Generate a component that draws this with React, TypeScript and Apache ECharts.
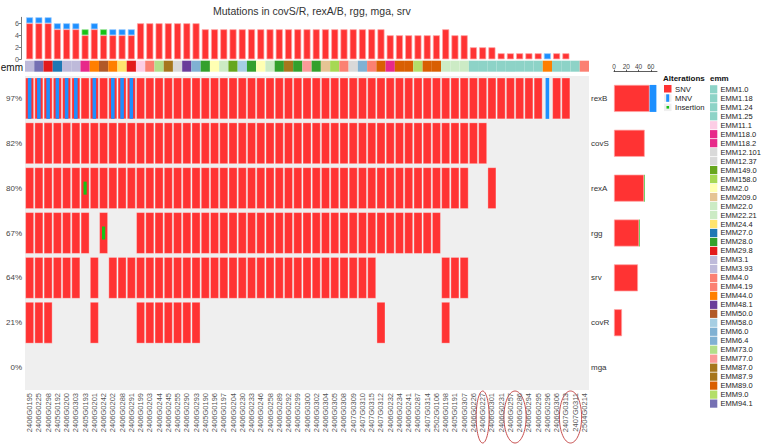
import React, { useEffect, useRef } from "react";
import * as echarts from "echarts";

const FONT = "'Liberation Sans', Arial, sans-serif";

const samples = [
  "2406G0195", "2406G0225", "2406G0298", "2405G0192", "2406G0200", "2406G0303", "2405G0193", "2406G0201", "2406G0242", "2406G0202",
  "2406G0288", "2406G0291", "2406G0199", "2406G0203", "2406G0244", "2406G0245", "2406G0255", "2406G0290", "2406G0293", "2405G0190",
  "2406G0196", "2406G0197", "2406G0204", "2406G0230", "2406G0233", "2406G0246", "2406G0258", "2406G0289", "2406G0292", "2406G0299",
  "2406G0300", "2406G0302", "2406G0304", "2406G0305", "2406G0308", "2407G0309", "2407G0310", "2407G0315", "2407G0312", "2406G0232",
  "2406G0234", "2406G0241", "2406G0287", "2407G0314", "2502G0106", "2406G0198", "2405G0191", "2406G0307", "2406G0226", "2406G0227",
  "2406G0301", "2406G0231", "2406G0257", "2406G0286", "2406G0294", "2406G0295", "2406G0296", "2406G0306", "2407G0313", "2407G0311",
  "2504G0214",
];

const genes = ["rexB", "covS", "rexA", "rgg", "srv", "covR", "mga"];

// One code per sample (groups of ten): S = SNV, M = MNV, B = SNV + MNV, I = SNV + insertion, . = none
const rexB = "BBBBBBSBSB BBSSSSSSSS SSSSSSSSSS SSSSSSSSSS SSSSSSSSSS SSSSSSMSS. .";
const covS = "SSSSSSSSSS SSSSSSSSSS SSSSSSSSSS SSSSSSSSSS SSSSSSSSSS .......... .";
const rexA = "SSSSSSISSS SSSSSSSSSS SSSSSSSSSS SSSSSSSSSS SSSSSSSS.. S......... .";
const rgg = "SSSSSSS.I. ..SSSSSSSS SSSSSSSSSS SSSSSSSSSS SSSSS..... .......... .";
const srv = "SSSSSS.S.S SSSSSSSSSS SSSSSSSSSS SSSSSSSS.. .....SSS.. .......... .";
const covR = "SSS....S.. ..SSSSSSS. .......... ........S. .....S.... .......... .";
const mga = ".......... .......... .......... .......... .......... .......... .";

const geneCodes = [rexB, covS, rexA, rgg, srv, covR, mga].map((s) => s.replace(/ /g, "").split(""));

const emmBySample = [
  "EMM3.93", "EMM94.1", "EMM29.8", "EMM27.0", "EMM3.1", "EMM3.1", "EMM118.0", "EMM44.0", "EMM50.0", "EMM44.0",
  "EMM24.4", "EMM29.8", "EMM11.1", "EMM4.0", "EMM73.0", "EMM87.0", "EMM12.37", "EMM48.1", "EMM6.0", "EMM28.0",
  "EMM2.0", "EMM22.0", "EMM149.0", "EMM58.0", "EMM28.0", "EMM2.0", "EMM22.0", "EMM28.0", "EMM87.9", "EMM28.0",
  "EMM77.0", "EMM28.0", "EMM209.0", "EMM158.0", "EMM4.19", "EMM12.101", "EMM6.4", "EMM4.0", "EMM89.0", "EMM118.2",
  "EMM89.0", "EMM89.0", "EMM9.0", "EMM89.0", "EMM89.0", "EMM22.21", "EMM22.0", "EMM22.0", "EMM1.0", "EMM1.0",
  "EMM1.18", "EMM1.0", "EMM1.24", "EMM1.0", "EMM1.25", "EMM1.0", "EMM44.0", "EMM1.0", "EMM1.0", "EMM1.0",
  "EMM4.0",
];

const emmLevels = [
  "EMM1.0", "EMM1.18", "EMM1.24", "EMM1.25", "EMM11.1", "EMM118.0", "EMM118.2", "EMM12.101", "EMM12.37",
  "EMM149.0", "EMM158.0", "EMM2.0", "EMM209.0", "EMM22.0", "EMM22.21", "EMM24.4", "EMM27.0", "EMM28.0",
  "EMM29.8", "EMM3.1", "EMM3.93", "EMM4.0", "EMM4.19", "EMM44.0", "EMM48.1", "EMM50.0", "EMM58.0",
  "EMM6.0", "EMM6.4", "EMM73.0", "EMM77.0", "EMM87.0", "EMM87.9", "EMM89.0", "EMM9.0", "EMM94.1",
];
const emmColors = [
  "#8dd3c7", "#8dd3c7", "#8dd3c7", "#8dd3c7", "#fccde5", "#e7298a", "#e7298a", "#d9d9d9", "#d9d9d9",
  "#66a61e", "#a6d854", "#ffffb3", "#e5c494", "#ccebc5", "#ccebc5", "#ffe46e", "#1f78b4", "#33a02c",
  "#e31a1c", "#bebada", "#bebada", "#fb8072", "#fb8072", "#ff7f00", "#6a3d9a", "#b15928", "#a6cee3",
  "#80b1d3", "#80b1d3", "#b2df8a", "#fb9a99", "#a6761d", "#a6761d", "#d95f02", "#b3de69", "#7570b3",
];

const circledSamples = [["2406G0227"], ["2406G0257", "2406G0286"], ["2407G0313", "2407G0311"]];

const SNV_COLOR = "#ff3333";
const MNV_COLOR = "#1e90ff";
const INS_COLOR = "#16c216";

const hasSnv = (c: string) => c === "S" || c === "B" || c === "I";
const hasMnv = (c: string) => c === "M" || c === "B";
const hasIns = (c: string) => c === "I";

// empty stack segments are left out so they leave no hairline
const orNull = (v: number) => (v > 0 ? v : null);

export default function App() {
  const ref = useRef<HTMLDivElement>(null);

  useEffect(() => {
    document.body.style.margin = "0";
    if (!ref.current) return;
    const chart = echarts.init(ref.current, undefined, { renderer: "svg" });

    const n = samples.length;
    const colSnv = samples.map((_, i) => geneCodes.filter((g) => hasSnv(g[i])).length);
    const colMnv = samples.map((_, i) => geneCodes.filter((g) => hasMnv(g[i])).length);
    const colIns = samples.map((_, i) => geneCodes.filter((g) => hasIns(g[i])).length);

    const geneSnv = geneCodes.map((g) => g.filter(hasSnv).length);
    const geneMnv = geneCodes.map((g) => g.filter(hasMnv).length);
    const geneIns = geneCodes.map((g) => g.filter(hasIns).length);
    const genePct = geneCodes.map((g) => Math.round((g.filter((c) => c !== ".").length / n) * 100) + "%");

    const cells: number[][] = [];
    geneCodes.forEach((g, r) => {
      g.forEach((c, i) => {
        if (c !== ".") cells.push([i, r, hasSnv(c) ? 1 : 0, hasMnv(c) ? 1 : 0, hasIns(c) ? 1 : 0]);
      });
    });

    const emmColorOf = (e: string) => emmColors[emmLevels.indexOf(e)];

    const L = 25;
    const W = 564;

    const option: any = {
      animation: false,
      textStyle: { fontFamily: FONT },
      title: {
        text: "Mutations in covS/R, rexA/B, rgg, mga, srv",
        left: 208,
        top: 0,
        textStyle: { fontSize: 10.5, fontWeight: "normal", color: "#333", fontFamily: FONT },
      },
      grid: [
        { left: L, top: 17.3, width: W, height: 42 },
        { left: L, top: 60.7, width: W, height: 11 },
        { left: L, top: 76, width: W, height: 314, show: true, backgroundColor: "#efefef", borderWidth: 0 },
        { left: 614, top: 76, width: 43, height: 314 },
      ],
      xAxis: [
        { type: "category", gridIndex: 0, data: samples, show: false },
        { type: "category", gridIndex: 1, data: samples, show: false },
        {
          type: "category",
          gridIndex: 2,
          data: samples,
          axisLine: { show: false },
          axisTick: { show: false },
          axisLabel: { rotate: 90, interval: 0, fontSize: 7.5, color: "#555", margin: 3, fontFamily: FONT },
        },
        {
          type: "value",
          gridIndex: 3,
          position: "top",
          min: 0,
          max: 70,
          interval: 20,
          offset: 4.3,
          axisLine: { show: true, lineStyle: { color: "#333", width: 0.8 } },
          axisTick: { show: true, length: 2, lineStyle: { color: "#333", width: 0.8 } },
          axisLabel: { fontSize: 6.5, color: "#444", margin: 1.5, fontFamily: FONT },
          splitLine: { show: false },
        },
      ],
      yAxis: [
        {
          type: "value",
          gridIndex: 0,
          min: 0,
          max: 7,
          interval: 2,
          offset: 4,
          axisLine: { show: true, lineStyle: { color: "#555", width: 0.8 } },
          axisTick: { show: true, length: 2.5, lineStyle: { color: "#555", width: 0.8 } },
          axisLabel: { fontSize: 7, color: "#555", margin: 2, fontFamily: FONT },
          splitLine: { show: false },
        },
        { type: "value", gridIndex: 1, min: 0, max: 1, show: false },
        {
          type: "category",
          gridIndex: 2,
          data: genePct,
          inverse: true,
          position: "left",
          axisLine: { show: false },
          axisTick: { show: false },
          axisLabel: { fontSize: 8, color: "#444", margin: 3, fontFamily: FONT },
        },
        {
          type: "category",
          gridIndex: 2,
          data: genes,
          inverse: true,
          position: "right",
          axisLine: { show: false },
          axisTick: { show: false },
          axisLabel: { fontSize: 8, color: "#333", margin: 2, fontFamily: FONT },
        },
        { type: "category", gridIndex: 3, data: genes, inverse: true, show: false },
      ],
      series: [
        {
          name: "SNV",
          type: "bar",
          xAxisIndex: 0,
          yAxisIndex: 0,
          stack: "top",
          barWidth: 7,
          data: colSnv.map(orNull),
          itemStyle: { color: SNV_COLOR, borderColor: "#ffa3a3", borderWidth: 0.7 },
        },
        {
          name: "MNV",
          type: "bar",
          xAxisIndex: 0,
          yAxisIndex: 0,
          stack: "top",
          barWidth: 7,
          data: colMnv.map(orNull),
          itemStyle: { color: MNV_COLOR, borderColor: "#9ccbff", borderWidth: 0.7 },
        },
        {
          name: "Insertion",
          type: "bar",
          xAxisIndex: 0,
          yAxisIndex: 0,
          stack: "top",
          barWidth: 7,
          data: colIns.map(orNull),
          itemStyle: { color: INS_COLOR, borderColor: "#9be29b", borderWidth: 0.7 },
        },
        {
          name: "emm",
          type: "bar",
          xAxisIndex: 1,
          yAxisIndex: 1,
          barWidth: "100%",
          data: emmBySample.map((e) => ({ value: 1, itemStyle: { color: emmColorOf(e) } })),
        },
        {
          name: "cells",
          type: "custom",
          xAxisIndex: 2,
          yAxisIndex: 2,
          data: cells,
          renderItem: (_params: any, api: any) => {
            const c = api.coord([api.value(0), api.value(1)]);
            const s = api.size([1, 1]);
            const cw = s[0] - 1.2;
            const ch = s[1] - 4;
            const children: any[] = [];
            if (api.value(2)) {
              children.push({
                type: "rect",
                shape: { x: c[0] - cw / 2, y: c[1] - ch / 2, width: cw, height: ch },
                style: { fill: SNV_COLOR, stroke: "rgba(255,255,255,0.45)", lineWidth: 0.7 },
              });
            }
            if (api.value(3)) {
              children.push({
                type: "rect",
                shape: { x: c[0] - 1.8, y: c[1] - ch / 2, width: 3.6, height: ch },
                style: { fill: MNV_COLOR },
              });
            }
            if (api.value(4)) {
              children.push({
                type: "rect",
                shape: { x: c[0] - 1.6, y: c[1] - 6.5, width: 3.2, height: 13 },
                style: { fill: INS_COLOR },
              });
            }
            return { type: "group", children };
          },
        },
        {
          name: "SNV",
          type: "bar",
          xAxisIndex: 3,
          yAxisIndex: 4,
          stack: "side",
          barWidth: 27,
          data: geneSnv.map(orNull),
          itemStyle: { color: SNV_COLOR, borderColor: "#ffa3a3", borderWidth: 0.7 },
        },
        {
          name: "MNV",
          type: "bar",
          xAxisIndex: 3,
          yAxisIndex: 4,
          stack: "side",
          barWidth: 27,
          data: geneMnv.map(orNull),
          itemStyle: { color: MNV_COLOR },
        },
        {
          name: "Insertion",
          type: "bar",
          xAxisIndex: 3,
          yAxisIndex: 4,
          stack: "side",
          barWidth: 27,
          data: geneIns.map(orNull),
          itemStyle: { color: INS_COLOR },
        },
      ],
    };

    chart.setOption(option);

    // Legends, row caption and the circled sample labels
    const els: any[] = [];
    els.push({
      type: "text",
      x: 23,
      y: 67,
      style: { text: "emm", fontSize: 10, fontFamily: FONT, fill: "#111", align: "right", verticalAlign: "middle" },
    });
    els.push({
      type: "text",
      x: 663,
      y: 78,
      style: { text: "Alterations", fontSize: 8, fontWeight: "bold", fontFamily: FONT, fill: "#111", verticalAlign: "middle" },
    });
    els.push({ type: "rect", shape: { x: 664, y: 85, width: 7.5, height: 7.5 }, style: { fill: SNV_COLOR } });
    els.push({ type: "rect", shape: { x: 664, y: 94.3, width: 7.5, height: 7.5 }, style: { fill: "#efefef" } });
    els.push({ type: "rect", shape: { x: 666.2, y: 94.3, width: 3, height: 7.5 }, style: { fill: MNV_COLOR } });
    els.push({ type: "rect", shape: { x: 664, y: 103.6, width: 7.5, height: 7.5 }, style: { fill: "#efefef" } });
    els.push({ type: "rect", shape: { x: 666.5, y: 106, width: 2.6, height: 2.6 }, style: { fill: INS_COLOR } });
    ["SNV", "MNV", "Insertion"].forEach((t, i) => {
      els.push({
        type: "text",
        x: 675,
        y: 89 + i * 9.3,
        style: { text: t, fontSize: 7.7, fontFamily: FONT, fill: "#222", verticalAlign: "middle" },
      });
    });
    els.push({
      type: "text",
      x: 710,
      y: 78,
      style: { text: "emm", fontSize: 8, fontWeight: "bold", fontFamily: FONT, fill: "#111", verticalAlign: "middle" },
    });
    emmLevels.forEach((lv, i) => {
      const y = 89.3 + i * 8.98;
      els.push({ type: "rect", shape: { x: 710, y: y - 4.1, width: 7.3, height: 8.2 }, style: { fill: emmColors[i] } });
      els.push({
        type: "text",
        x: 720.5,
        y,
        style: { text: lv, fontSize: 7.5, fontFamily: FONT, fill: "#222", verticalAlign: "middle" },
      });
    });
    circledSamples.forEach((group) => {
      const xs = group.map((s) => chart.convertToPixel({ xAxisIndex: 2 } as any, s) as unknown as number);
      const lo = Math.min(...xs);
      const hi = Math.max(...xs);
      els.push({
        type: "ellipse",
        shape: { cx: (lo + hi) / 2, cy: 417, rx: (hi - lo) / 2 + 6.5, ry: 26 },
        style: { fill: "none", stroke: "#c03a3a", lineWidth: 0.9 },
      });
    });
    chart.setOption({ graphic: { elements: els } });

    return () => chart.dispose();
  }, []);

  return <div ref={ref} style={{ width: 763, height: 444 }} />;
}
